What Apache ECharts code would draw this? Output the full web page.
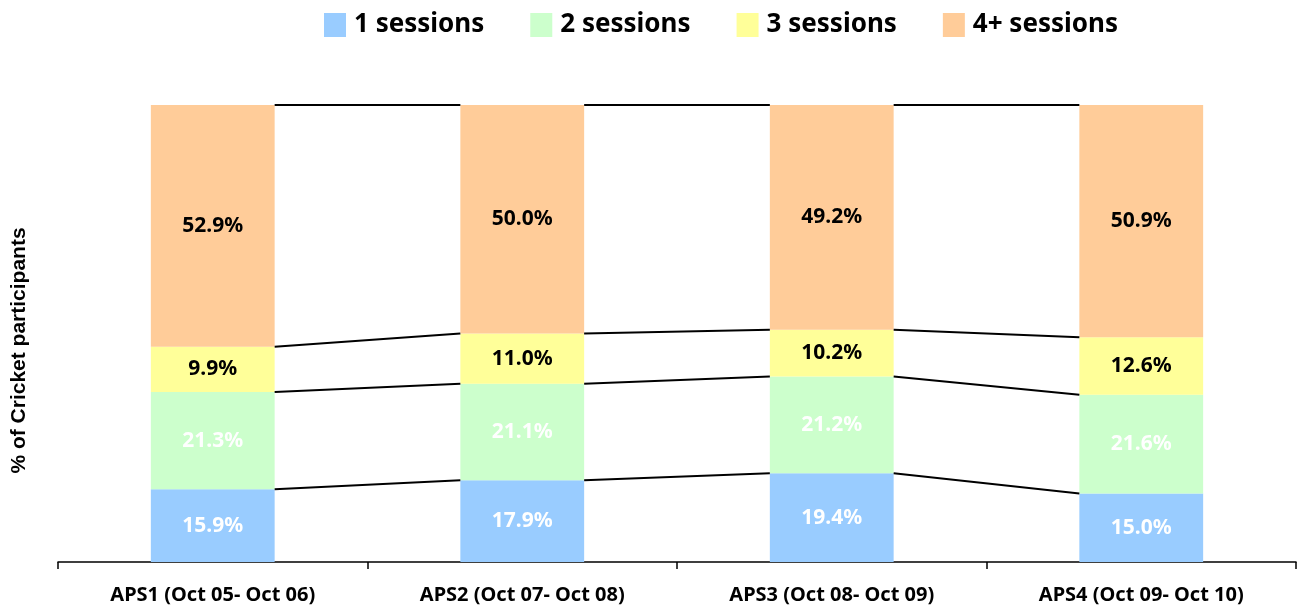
<!DOCTYPE html>
<html>
<head>
<meta charset="utf-8">
<script src="https://cdn.jsdelivr.net/npm/echarts@6/dist/echarts.min.js"></script>
<style>
  html, body { margin: 0; padding: 0; background: #fff; }
  #chart { width: 1303px; height: 610px; }
</style>
</head>
<body>
<div id="chart"></div>
<script>
// 数据
var categories = ['APS1 (Oct 05- Oct 06)', 'APS2 (Oct 07- Oct 08)', 'APS3 (Oct 08- Oct 09)', 'APS4 (Oct 09- Oct 10)'];
var seriesNames = ['1 sessions', '2 sessions', '3 sessions', '4+ sessions'];
var oneSession = [15.9, 17.9, 19.4, 15.0];
var twoSessions = [21.3, 21.1, 21.2, 21.6];
var threeSessions = [9.9, 11.0, 10.2, 12.6];
var fourPlusSessions = [52.9, 50.0, 49.2, 50.9];

var values = [oneSession, twoSessions, threeSessions, fourPlusSessions];
var colors = ['#99CCFF', '#CCFFCC', '#FFFF99', '#FFCC99'];
var labelColors = ['#ffffff', '#ffffff', '#000000', '#000000'];
var fontFamily = '"Noto Sans", "Open Sans", sans-serif';

// 每个类别的累计边界
function cumulative(idx) {
    var out = [];
    var s = 0;
    for (var k = 0; k < values.length; k++) {
        s += values[k][idx];
        out.push(Math.min(s, 100));
    }
    return out;
}

var chart = echarts.init(document.getElementById('chart'));

var barSeries = seriesNames.map(function (name, k) {
    return {
        name: name,
        type: 'bar',
        stack: 'total',
        barWidth: '40%',
        data: values[k],
        itemStyle: { color: colors[k] },
        label: {
            show: true,
            position: 'inside',
            color: labelColors[k],
            fontWeight: 'bold',
            fontSize: 21,
            fontFamily: fontFamily,
            formatter: function (p) { return p.value.toFixed(1) + '%'; }
        }
    };
});

// 柱子之间的连接线
var connector = {
    type: 'custom',
    silent: true,
    z: 5,
    data: categories.slice(0, -1).map(function (c, i) { return [i]; }),
    encode: { x: 0 },
    renderItem: function (params, api) {
        var i = api.value(0);
        var bw = api.size([1, 0])[0] * 0.4;
        var a = cumulative(i);
        var b = cumulative(i + 1);
        var children = [];
        for (var k = 0; k < a.length; k++) {
            var p1 = api.coord([i, a[k]]);
            var p2 = api.coord([i + 1, b[k]]);
            children.push({
                type: 'line',
                shape: { x1: p1[0] + bw / 2, y1: p1[1], x2: p2[0] - bw / 2, y2: p2[1] },
                style: { stroke: '#000', lineWidth: 2 }
            });
        }
        return { type: 'group', children: children };
    }
};

chart.setOption({
    animation: false,
    grid: { left: 58, right: 7, top: 105, bottom: 48 },
    legend: {
        top: 7,
        left: 319,
        itemWidth: 22,
        itemHeight: 24,
        itemGap: 46,
        icon: 'rect',
        data: seriesNames,
        textStyle: { fontSize: 26, fontWeight: 'bold', color: '#000', fontFamily: fontFamily, padding: [0, 0, 0, 3] }
    },
    xAxis: {
        type: 'category',
        data: categories,
        axisLine: { lineStyle: { color: '#000', width: 1.5 } },
        axisTick: { show: true, length: 7, lineStyle: { color: '#000', width: 1.5 } },
        axisLabel: { color: '#000', fontWeight: 'bold', fontSize: 20, margin: 23, fontFamily: fontFamily }
    },
    yAxis: {
        type: 'value',
        min: 0,
        max: 100,
        axisLine: { show: false },
        axisTick: { show: false },
        axisLabel: { show: false },
        splitLine: { show: false },
        name: '% of Cricket participants',
        nameLocation: 'middle',
        nameRotate: 90,
        nameGap: 28,
        nameTextStyle: {
            fontSize: 21, fontWeight: 'bold', color: '#000',
            fontFamily: 'Liberation Sans, Arial, sans-serif',
            padding: [0, 34, 0, 0]
        }
    },
    series: barSeries.concat([connector])
});
</script>
</body>
</html>
